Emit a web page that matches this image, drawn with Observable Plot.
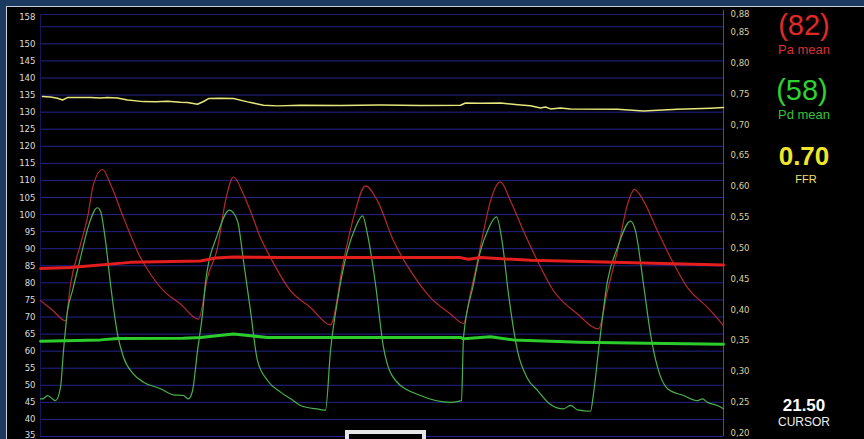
<!DOCTYPE html>
<html><head><meta charset="utf-8">
<script src="https://cdn.jsdelivr.net/npm/d3@7"></script>
<script src="https://cdn.jsdelivr.net/npm/@observablehq/plot@0.6"></script>
<style>
html,body{margin:0;padding:0;background:#1c3a60;}
#wrap{position:relative;width:864px;height:439px;background:#1c3a60;overflow:hidden;}
#inner{position:absolute;left:6px;top:6px;right:0;bottom:0;background:#000;border-left:1px solid #c9d2dc;border-top:1px solid #c9d2dc;}
#chart{position:absolute;left:0;top:0;}
.lbl{position:absolute;width:120px;left:744px;text-align:center;font-family:"Liberation Sans",Arial,sans-serif;line-height:1;white-space:nowrap;}
</style></head>
<body><div id="wrap"><div id="inner"></div><div id="chart"></div>
<div class="lbl" style="top:11px;font-size:29px;color:#e02a2a">(82)</div>
<div class="lbl" style="top:43px;font-size:13px;color:#d83030">Pa mean</div>
<div class="lbl" style="top:76px;font-size:29px;color:#2fd02f;left:742px">(58)</div>
<div class="lbl" style="top:108px;font-size:13px;color:#36c036">Pd mean</div>
<div class="lbl" style="top:143px;font-size:26px;font-weight:bold;color:#f0e62a">0.70</div>
<div class="lbl" style="top:174px;font-size:11px;color:#ece070;left:746px">FFR</div>
<div class="lbl" style="top:397px;font-size:17px;font-weight:bold;color:#ffffff">21.50</div>
<div class="lbl" style="top:416px;font-size:12px;color:#eeeeee">CURSOR</div>
</div>
<script>
// time axis in samples (0..683), pressure in mmHg
const paTrace = [[0,74.8],[12,72],[25,68.9],[30,79.6],[40,91.3],[47,99.1],[53,108.9],[62,113.2],[70,108.9],[83,99.1],[100,87.4],[110,82.6],[123,77.7],[140,73.8],[158,69.4],[167,81.6],[177,90.3],[185,104],[193,111],[203,105.9],[210,101],[220,93.2],[230,87.4],[250,77.7],[270,72.8],[290,67.7],[303,86.4],[313,99.1],[325,108.4],[337,104],[353,92.3],[370,83.5],[390,75.7],[410,70.9],[423,68.1],[430,77],[437,86.4],[443,95],[450,104],[460,109.6],[470,104],[483,95.2],[497,86.4],[513,77.7],[537,70.9],[558,66.5],[567,77.7],[577,89.4],[587,103],[594,107.4],[603,104],[617,95.2],[630,87.4],[647,78.6],[667,72.8],[683,67.5]];
const pdTrace = [[0,46],[2,46],[7,47],[15,45.5],[20,49.4],[23,60.1],[27,71.8],[32,77.7],[40,87.4],[48,96.7],[57,102],[60,101],[65,92.3],[70,79.6],[77,65],[83,58.2],[93,53.3],[103,50.9],[120,49],[133,47.2],[143,47],[148,46],[152,48.4],[157,60.1],[162,70.9],[165,80],[177,94.2],[189,101.3],[197,98.1],[203,86.4],[210,71.8],[217,57.2],[227,51.4],[240,48],[253,45.5],[260,44.1],[278,43],[285,42.7],[290,60.1],[297,74.8],[307,89.4],[315,96.2],[322,99.6],[327,94.2],[335,79.6],[343,61.1],[355,51.4],[380,47],[410,45],[421,45.5],[423,64],[433,79.6],[440,89.4],[447,95.2],[456,99.3],[462,91.3],[468,76.7],[477,60.1],[487,52],[497,48.5],[510,44.4],[523,43.1],[530,44.1],[537,42.8],[550,42.4],[553,47.5],[558,60.1],[567,80.6],[577,90.3],[590,98.1],[595,95.2],[603,79.6],[610,65],[617,55.3],[627,49],[643,47],[657,45.5],[662,46],[667,45],[677,44.1],[683,43.1]];
const paMean = [[0,84.2],[30,84.5],[90,86],[160,86.4],[175,87.3],[193,87.6],[240,87.4],[420,87.4],[428,86.9],[440,87.4],[490,86.6],[573,86],[683,85.2]];
const pdMean = [[0,62.9],[60,63.3],[77,63.7],[143,63.8],[160,64],[193,65],[210,64.5],[227,64],[420,64],[423,63.6],[440,64],[450,64.2],[473,63.3],[540,62.6],[607,62.3],[683,62]];
// Pd/Pa ratio (right axis)
const ratioTrace = [[2,0.7455],[10,0.7448],[17,0.7429],[22,0.740],[27,0.7438],[50,0.7438],[60,0.7432],[67,0.7440],[77,0.743],[87,0.740],[103,0.7373],[115,0.7369],[127,0.7378],[140,0.7362],[147,0.7357],[157,0.7331],[163,0.7375],[168,0.7422],[180,0.7428],[193,0.7422],[207,0.7369],[223,0.7315],[237,0.7304],[260,0.7315],[300,0.7312],[340,0.7318],[380,0.7312],[420,0.7315],[425,0.735],[440,0.7345],[460,0.735],[480,0.732],[490,0.7305],[500,0.727],[505,0.7285],[510,0.7255],[520,0.727],[530,0.7252],[577,0.725],[603,0.722],[637,0.725],[670,0.7266],[683,0.7276]];
const leftTicks = [158,150,145,140,135,130,125,120,115,110,105,100,95,90,85,80,75,70,65,60,55,50,45,40];
const bottomTick = [35];
const gridTicks = [35,40,45,50,55,60,65,70,75,80,85,90,95,100,105,110,115,120,125,130,135,140,145,150,155];
const ratioTicks = [0.88,0.85,0.80,0.75,0.70,0.65,0.60,0.55,0.50,0.45,0.40,0.35,0.30,0.25];
const ratioBottomTick = [0.20];
const cursorBox = [{x1:307, x2:384, y1:36.17, y2:32}];

const toP = r => 36.1 + (r - 0.20) * 180.5;
const toR = p => (p - 36.1) / 180.5 + 0.20;
const font = '"DejaVu Sans Condensed","Liberation Sans Narrow","DejaVu Sans",sans-serif';
const ratioFmt = p => toR(p).toFixed(2).replace(".", ",");

const chart = Plot.plot({
  width: 864, height: 439,
  marginLeft: 40, marginRight: 141, marginTop: 14, marginBottom: 3,
  x: {domain: [0, 683], axis: null},
  y: {domain: [35, 158.6]},
  style: {background: "transparent", fontFamily: font, fontStretch: "condensed"},
  marks: [
    Plot.ruleY(gridTicks, {stroke: "#24248e", strokeWidth: 1}),
    Plot.ruleY([158.6], {stroke: "#1c1c70"}),
    Plot.ruleX([0], {stroke: "#16165a"}),
    Plot.ruleX([683], {stroke: "#4545c8", y1: 35, y2: 159.8, clip: false}),
    Plot.axisY(leftTicks, {anchor: "left", tickSize: 0, tickPadding: 5, fill: "#dcdcdc", fontSize: 9.5, label: null, tickFormat: d => String(d)}),
    Plot.axisY(bottomTick, {anchor: "left", tickSize: 0, tickPadding: 5, fill: "#dcdcdc", fontSize: 9.5, label: null, dy: -2, tickFormat: d => String(d)}),
    Plot.axisY(ratioTicks.map(toP), {anchor: "right", tickSize: 0, tickPadding: 7, fill: "#d8d09c", fontSize: 9.5, label: null, tickFormat: ratioFmt}),
    Plot.axisY(ratioBottomTick.map(toP), {anchor: "right", tickSize: 0, tickPadding: 7, fill: "#d8d09c", fontSize: 9.5, label: null, tickFormat: ratioFmt}),
    Plot.line(ratioTrace, {x: d => d[0], y: d => toP(d[1]), stroke: "#e6e67a", strokeWidth: 1.5}),
    Plot.line(paTrace, {x: d => d[0], y: d => d[1], stroke: "#b42a2a", strokeWidth: 1.2, curve: "monotone-x"}),
    Plot.line(pdTrace, {x: d => d[0], y: d => d[1], stroke: "#4cb04c", strokeWidth: 1.2, curve: "monotone-x"}),
    Plot.line(paMean, {x: d => d[0], y: d => d[1], stroke: "#e41e1e", strokeWidth: 3}),
    Plot.line(pdMean, {x: d => d[0], y: d => d[1], stroke: "#2ccc2c", strokeWidth: 3}),
    Plot.rect(cursorBox, {x1: "x1", x2: "x2", y1: "y1", y2: "y2", fill: "#000", stroke: "#e6e6e6", strokeWidth: 4, clip: false})
  ]
});
document.getElementById("chart").appendChild(chart);
</script>
</body></html>
